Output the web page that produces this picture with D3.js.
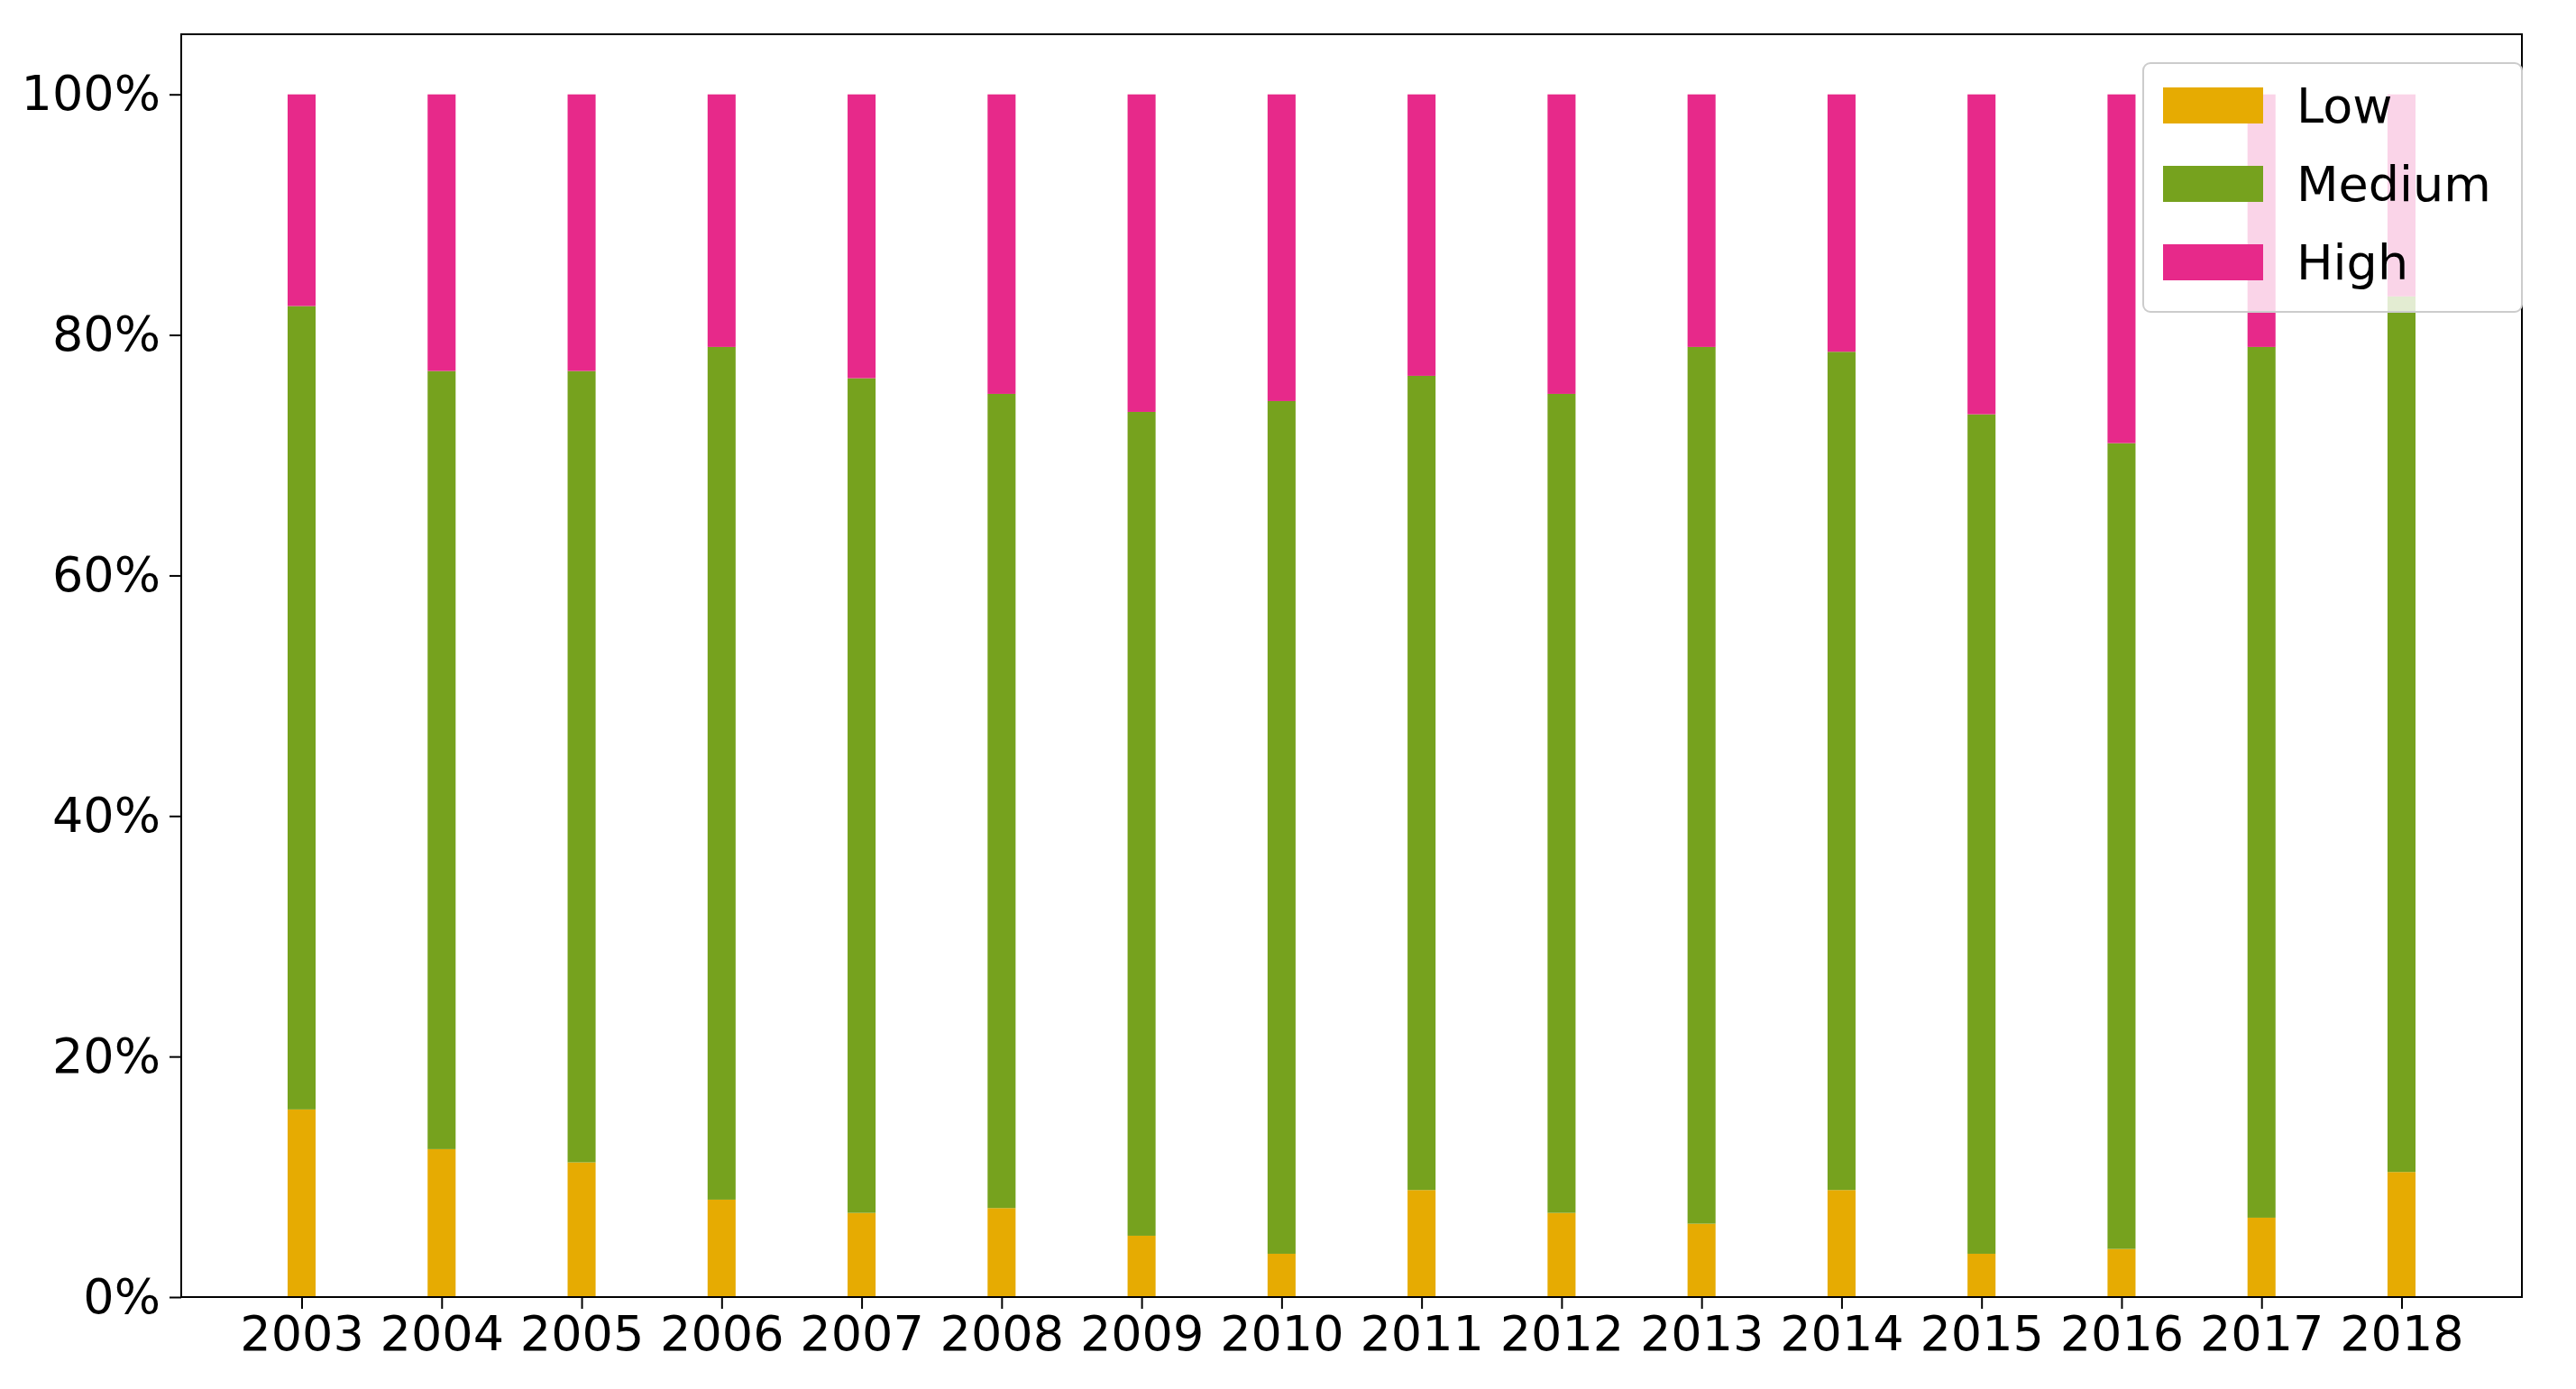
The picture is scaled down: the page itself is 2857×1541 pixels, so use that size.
<!DOCTYPE html>
<html>
<head>
<meta charset="utf-8">
<script src="https://cdn.jsdelivr.net/npm/d3@7"></script>
<style>
  body { margin: 0; background: white; }
  text { font-family: "DejaVu Sans", sans-serif; }
</style>
</head>
<body>
<svg id="chart" width="2857" height="1541"></svg>
<script>
// Shares per year, in percent
const years = ["2003","2004","2005","2006","2007","2008","2009","2010","2011","2012","2013","2014","2015","2016","2017","2018"];
const low    = [15.6, 12.3, 11.2, 8.1, 7.0, 7.4, 5.1, 3.6, 8.9, 7.0, 6.1, 8.9, 3.6, 4.0, 6.6, 10.4];
const medium = [66.8, 64.7, 65.8, 70.9, 69.4, 67.7, 68.5, 70.9, 67.7, 68.1, 72.9, 69.7, 69.8, 67.0, 72.4, 72.8];
const high   = years.map((y, i) => 100 - low[i] - medium[i]);
const seriesNames = ["Low", "Medium", "High"];
const colors = ["#e6ab02", "#76a21e", "#e7298a"];
const yTicks = [0, 20, 40, 60, 80, 100];

const margin = { left: 201, right: 60, top: 38, bottom: 102 };
const W = 2857, H = 1541;
const svg = d3.select("#chart");

const x = d3.scaleLinear().domain([-0.86, years.length - 1 + 0.86]).range([margin.left, W - margin.right]);
const y = d3.scaleLinear().domain([0, 105]).range([H - margin.bottom, margin.top]);
const barW = (x(1) - x(0)) * 0.2;

const rows = years.map((yr, i) => ({ year: yr, Low: low[i], Medium: medium[i], High: high[i] }));
const stack = d3.stack().keys(seriesNames)(rows);

svg.selectAll("g.series")
    .data(stack)
    .enter().append("g")
    .attr("fill", (d, i) => colors[i])
    .selectAll("rect")
    .data(d => d)
    .enter().append("rect")
    .attr("x", (d, i) => x(i) - barW / 2)
    .attr("width", barW)
    .attr("y", d => y(d[1]))
    .attr("height", d => y(d[0]) - y(d[1]));

// axes
const yAxis = d3.axisLeft(y).tickValues(yTicks).tickFormat(d => d + "%").tickSize(13).tickPadding(10);
const xAxis = d3.axisBottom(x).tickValues(d3.range(years.length)).tickFormat(i => years[i]).tickSize(13).tickPadding(8);

const ga = svg.append("g").attr("transform", `translate(${margin.left},0)`).call(yAxis);
const gx = svg.append("g").attr("transform", `translate(0,${H - margin.bottom})`).call(xAxis);
[ga, gx].forEach(g => {
    g.select(".domain").remove();
    g.selectAll("line").attr("stroke", "#000").attr("stroke-width", 2);
    g.selectAll("text").attr("font-size", 54).attr("fill", "#000").attr("font-family", "DejaVu Sans");
});

svg.append("rect")
    .attr("x", margin.left).attr("y", margin.top)
    .attr("width", W - margin.left - margin.right)
    .attr("height", H - margin.top - margin.bottom)
    .attr("fill", "none").attr("stroke", "#000").attr("stroke-width", 2);

// legend
const lg = svg.append("g").attr("transform", "translate(2377,70)");
lg.append("rect")
    .attr("width", 420).attr("height", 276).attr("rx", 8)
    .attr("fill", "white").attr("fill-opacity", 0.8)
    .attr("stroke", "#cccccc").attr("stroke-width", 2);
seriesNames.forEach((name, i) => {
    const cy = 47 + i * 87;
    lg.append("rect").attr("x", 22).attr("y", cy - 20).attr("width", 111).attr("height", 40).attr("fill", colors[i]);
    lg.append("text").attr("x", 170).attr("y", cy).attr("dy", "0.36em")
        .attr("font-size", 54).text(name);
});
</script>
</body>
</html>
